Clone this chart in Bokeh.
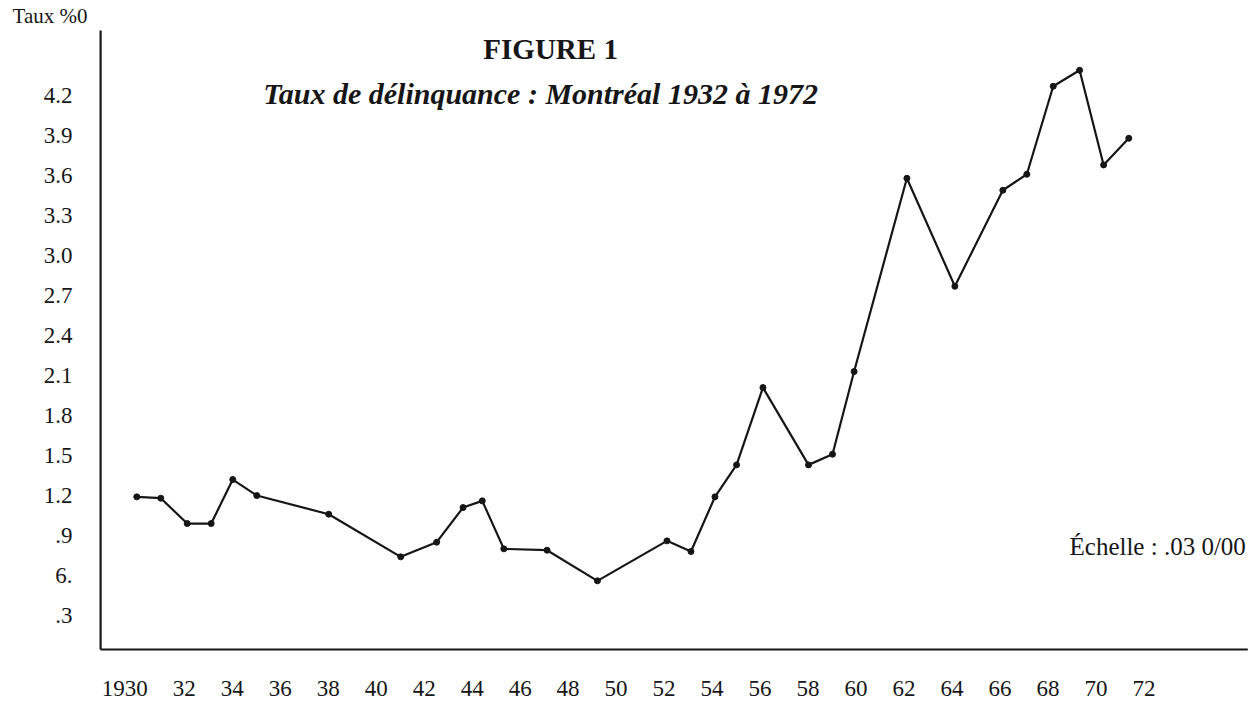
from bokeh.plotting import figure
from bokeh.models import Range1d
from bokeh.core.properties import value
from bokeh.embed import file_html
from bokeh.resources import INLINE

# ---- data ----
years = [1930, 1931, 1932.1, 1933.1, 1934, 1935, 1938, 1941, 1942.5, 1943.6,
         1944.4, 1945.3, 1947.1, 1949.2, 1952.1, 1953.1, 1954.1, 1955, 1956.1,
         1958, 1959, 1959.9, 1962.1, 1964.1, 1966.1, 1967.1, 1968.2, 1969.3,
         1970.3, 1971.35]
rates = [1.19, 1.18, 0.99, 0.99, 1.32, 1.20, 1.06, 0.74, 0.85, 1.11,
         1.16, 0.80, 0.79, 0.56, 0.86, 0.78, 1.19, 1.43, 2.01,
         1.43, 1.51, 2.13, 3.58, 2.77, 3.49, 3.61, 4.27, 4.39,
         3.68, 3.88]

x_ticks = [1930, 1932, 1934, 1936, 1938, 1940, 1942, 1944, 1946, 1948, 1950,
           1952, 1954, 1956, 1958, 1960, 1962, 1964, 1966, 1968, 1970, 1972]
x_labels = ["1930", "32", "34", "36", "38", "40", "42", "44", "46", "48", "50",
            "52", "54", "56", "58", "60", "62", "64", "66", "68", "70", "72"]
y_ticks = [0.3, 0.6, 0.9, 1.2, 1.5, 1.8, 2.1, 2.4, 2.7, 3.0, 3.3, 3.6, 3.9, 4.2]
y_labels = [".3", "6.", ".9", "1.2", "1.5", "1.8", "2.1", "2.4", "2.7", "3.0",
            "3.3", "3.6", "3.9", "4.2"]

title_text = "FIGURE 1"
subtitle_text = "Taux de délinquance : Montréal 1932 à 1972"
y_unit_text = "Taux %0"
scale_text = "Échelle : .03 0/00"

FONT = "Liberation Serif"
INK = "#161616"

# visible view (whole canvas is the plotting frame)
VIEW_X = (1924.318, 1976.507)
VIEW_Y = (-0.3601, 4.9137)
# hand-drawn axes of the original
AXIS_X = 1928.49      # vertical axis position (years)
AXIS_X_END = 1976.31  # right end of horizontal axis
AXIS_Y = 0.045        # horizontal axis position (rate)
AXIS_Y_TOP = 4.689    # top end of vertical axis
X_LABEL_ROW = -0.25   # row of the year labels (rate units)

p = figure(width=1252, height=703, output_backend="svg", toolbar_location=None,
           x_range=Range1d(*VIEW_X), y_range=Range1d(*VIEW_Y),
           min_border=0)
p.xaxis.visible = False
p.yaxis.visible = False
p.background_fill_color = "white"
p.border_fill_color = "white"
p.outline_line_color = None
p.grid.visible = False

# axes lines
p.segment(x0=[AXIS_X, AXIS_X], y0=[AXIS_Y, AXIS_Y],
          x1=[AXIS_X, AXIS_X_END], y1=[AXIS_Y_TOP, AXIS_Y],
          line_color=INK, line_width=2.2)

# y tick labels
p.text(x=[AXIS_X] * len(y_ticks), y=y_ticks, text=y_labels, x_offset=-28,
       text_align="right", text_baseline="middle", text_font=value(FONT),
       text_font_size="23px", text_color=INK)

# x tick labels
p.text(x=x_ticks, y=[X_LABEL_ROW] * len(x_ticks), text=x_labels, x_offset=11,
       text_align="right", text_baseline="middle", text_font=value(FONT),
       text_font_size="23px", text_color=INK)

# series
p.line(years, rates, line_color=INK, line_width=2.2)
p.scatter(years, rates, size=6, fill_color=INK, line_color=INK)

# texts
p.text(x=[1947.25], y=[4.553], text=[title_text], text_align="center",
       text_baseline="middle", text_font=value(FONT), text_font_size="29px",
       text_font_style="bold", text_color=INK)
p.text(x=[1946.83], y=[4.216], text=[subtitle_text], text_align="center",
       text_baseline="middle", text_font=value(FONT), text_font_size="30px",
       text_font_style="bold italic", text_color=INK)
p.text(x=[AXIS_X], y=[4.80], text=[y_unit_text], x_offset=-88,
       text_align="left", text_baseline="middle", text_font=value(FONT),
       text_font_size="21px", text_color=INK)
p.text(x=[1976.23], y=[0.82], text=[scale_text], text_align="right",
       text_baseline="middle", text_font=value(FONT), text_font_size="25px",
       text_color=INK)

open("out.html", "w").write(file_html(p, INLINE))
